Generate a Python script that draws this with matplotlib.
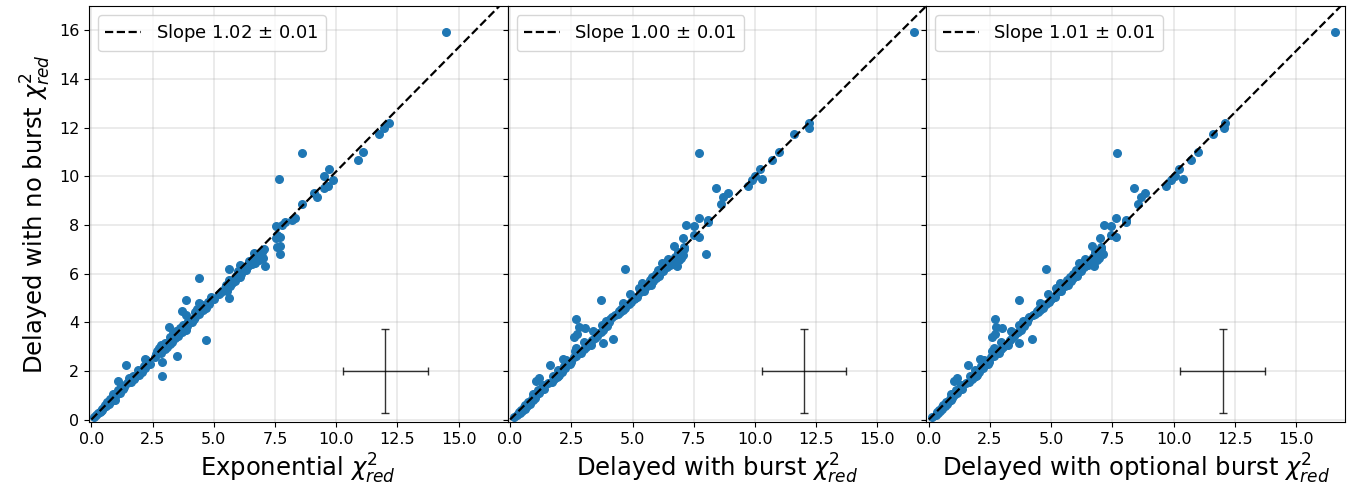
import numpy as np
import matplotlib
matplotlib.use('Agg')
import matplotlib.pyplot as plt

# reduced chi2 of the "delayed with no burst" fits (shared y axis)
chi_noburst = [0.10, 0.18, 0.25, 0.30, 0.35, 0.40, 0.45, 0.50, 0.55, 0.60,
               0.65, 0.70, 0.75, 0.80, 0.85, 0.90, 1.00, 1.05, 1.10, 1.20,
               1.25, 1.35, 1.40, 1.50, 1.55, 1.60, 1.65, 1.70, 1.75, 1.80,
               1.85, 1.80, 1.95, 2.05, 2.10, 2.25, 2.20, 2.30, 2.35, 2.45,
               2.50, 2.55, 2.60, 2.70, 2.75, 2.80, 2.90, 2.95, 3.00, 3.05,
               3.10, 3.15, 3.20, 3.25, 3.30, 3.35, 3.40, 3.45, 3.50, 3.55,
               3.60, 3.65, 3.70, 3.75, 3.80, 3.85, 3.90, 4.00, 4.05, 4.15,
               4.15, 4.20, 4.30, 4.35, 4.40, 4.45, 4.50, 4.55, 4.60, 4.70,
               4.75, 4.80, 4.85, 4.90, 4.95, 5.00, 5.05, 5.15, 5.25, 5.30,
               5.40, 5.50, 5.55, 5.60, 5.70, 5.75, 5.80, 5.85, 5.90, 6.00,
               6.10, 6.15, 6.20, 6.25, 6.30, 6.35, 6.40, 6.30, 6.45, 6.50,
               6.55, 6.60, 6.65, 6.70, 6.75, 6.80, 6.85, 6.90, 7.00, 7.10,
               7.15, 7.50, 7.45, 7.60, 7.95, 8.00, 8.10, 8.20, 8.30, 8.85,
               9.15, 9.30, 9.50, 9.60, 9.85, 9.90, 10.00, 10.30, 10.65, 10.95,
               11.00, 11.75, 12.00, 12.20, 15.95]

chi_exponential = [0.12, 0.20, 0.25, 0.35, 0.38, 0.45, 0.42, 0.52, 0.60, 0.55,
                   0.70, 0.65, 0.80, 0.95, 0.78, 0.85, 1.00, 0.90, 1.15, 1.10,
                   1.30, 1.35, 1.20, 1.45, 1.60, 1.10, 1.75, 1.55, 1.80, 1.70,
                   1.95, 2.90, 2.05, 1.90, 2.20, 1.40, 2.15, 2.40, 2.90, 2.25,
                   2.20, 2.60, 3.50, 2.65, 2.85, 2.70, 3.00, 2.75, 3.10, 2.85,
                   3.20, 3.00, 3.30, 4.70, 3.25, 3.40, 3.20, 3.55, 3.50, 3.35,
                   3.70, 3.45, 3.85, 3.60, 3.15, 3.90, 3.75, 4.10, 3.95, 4.20,
                   4.00, 4.25, 3.85, 4.40, 4.25, 3.70, 4.55, 4.30, 4.70, 4.50,
                   4.80, 4.40, 4.75, 3.85, 5.00, 5.60, 4.90, 5.20, 5.30, 5.55,
                   5.45, 5.65, 5.50, 5.75, 5.85, 5.60, 4.40, 6.05, 5.90, 6.10,
                   6.00, 6.30, 5.60, 6.15, 6.40, 6.05, 6.55, 7.10, 6.70, 6.45,
                   6.85, 6.60, 7.00, 6.75, 6.90, 7.70, 6.65, 6.95, 7.05, 7.60,
                   7.70, 7.70, 7.55, 7.60, 7.55, 7.80, 7.90, 8.20, 8.30, 8.60,
                   9.20, 9.10, 9.50, 9.65, 9.85, 7.65, 9.50, 9.70, 10.90, 8.60,
                   11.10, 11.75, 11.95, 12.15, 14.50]

chi_burst = [0.15, 0.30, 0.40, 0.35, 0.50, 0.45, 0.60, 0.55, 0.70, 0.62,
             0.80, 0.72, 0.85, 0.95, 0.90, 1.00, 1.05, 0.95, 1.20, 1.15,
             1.40, 1.30, 1.35, 1.55, 1.70, 1.05, 1.80, 1.20, 1.90, 1.75,
             2.00, 1.95, 2.10, 1.95, 2.25, 1.64, 2.20, 2.45, 2.50, 2.30,
             2.15, 2.60, 2.70, 2.75, 2.90, 2.65, 3.00, 2.70, 3.10, 3.30,
             3.25, 3.80, 3.00, 3.35, 4.20, 3.45, 2.60, 3.55, 2.75, 3.60,
             3.70, 3.40, 3.80, 3.05, 2.80, 3.95, 3.75, 4.05, 3.90, 2.70,
             4.10, 4.15, 4.30, 4.40, 4.50, 4.45, 4.60, 4.55, 4.70, 4.75,
             4.85, 4.60, 4.95, 3.70, 5.05, 5.10, 5.20, 4.90, 5.30, 5.45,
             5.25, 5.60, 5.75, 5.40, 5.85, 5.70, 5.95, 5.80, 6.10, 5.95,
             6.25, 6.05, 4.70, 6.40, 6.30, 6.55, 6.60, 6.80, 6.20, 6.65,
             6.90, 6.45, 7.00, 6.75, 7.05, 8.00, 6.95, 6.85, 7.10, 7.10,
             6.70, 7.70, 7.05, 7.50, 7.50, 7.20, 8.10, 8.10, 7.70, 8.60,
             8.70, 8.90, 8.40, 9.70, 9.90, 10.30, 10.00, 10.20, 10.70, 7.70,
             11.00, 11.60, 12.20, 12.20, 16.50]

chi_optional = [0.12, 0.28, 0.38, 0.32, 0.45, 0.42, 0.55, 0.52, 0.65, 0.60,
                0.75, 0.70, 0.82, 0.92, 0.88, 0.95, 1.02, 0.92, 1.15, 1.12,
                1.35, 1.28, 1.30, 1.50, 1.65, 1.05, 1.75, 1.15, 1.85, 1.70,
                1.95, 1.92, 2.05, 1.90, 2.20, 1.60, 2.15, 2.40, 2.45, 2.25,
                2.10, 2.55, 2.65, 2.70, 2.85, 2.60, 2.95, 2.65, 3.05, 3.25,
                3.20, 3.70, 2.95, 3.30, 4.20, 3.40, 2.60, 3.50, 2.70, 3.55,
                3.65, 3.35, 3.75, 3.00, 2.75, 3.90, 3.70, 4.00, 3.85, 2.70,
                4.05, 4.10, 4.25, 4.35, 4.45, 4.40, 4.55, 4.50, 4.65, 4.70,
                4.80, 4.55, 4.90, 3.70, 5.00, 5.05, 5.15, 4.85, 5.25, 5.40,
                5.20, 5.55, 5.70, 5.35, 5.80, 5.65, 5.90, 5.75, 6.05, 5.90,
                6.20, 6.00, 4.80, 6.35, 6.25, 6.50, 6.55, 6.75, 6.15, 6.60,
                6.85, 6.40, 6.95, 6.70, 7.00, 7.10, 6.90, 6.80, 7.05, 7.05,
                6.65, 7.65, 7.00, 7.45, 7.45, 7.15, 8.05, 8.05, 7.65, 8.55,
                8.65, 8.85, 8.40, 9.70, 9.90, 10.40, 10.05, 10.20, 10.70, 7.70,
                11.00, 11.60, 12.05, 12.10, 16.60]

xlabels = ['Exponential $\\chi^2_{red}$',
           'Delayed with burst $\\chi^2_{red}$',
           'Delayed with optional burst $\\chi^2_{red}$']
slopes = [1.02, 1.00, 1.01]
slope_errs = [0.01, 0.01, 0.01]

# typical uncertainty shown as a cross
err_x, err_y = 12.0, 2.0
err_dx, err_dy = 1.73, 1.74

fig, axes = plt.subplots(1, 3, figsize=(13.64, 4.97), dpi=100, sharex=True, sharey=True)
fig.subplots_adjust(left=0.0652, right=0.9861, bottom=0.151, top=0.988, wspace=0)

lim = (-0.1, 17.0)
line_x = np.array([0, 20])
for ax, xs, lab, m, dm in zip(axes, [chi_exponential, chi_burst, chi_optional], xlabels, slopes, slope_errs):
    ax.grid(True, alpha=0.3, lw=1.2)
    ax.set_axisbelow(True)
    ax.scatter(xs, chi_noburst, color='C0', s=30, zorder=2)
    ax.plot(line_x, m * line_x, 'k--', lw=1.6, zorder=3,
            label='Slope %.2f $\\pm$ %.2f' % (m, dm))
    ax.errorbar(err_x, err_y, xerr=err_dx, yerr=err_dy, color='k', alpha=0.8,
                lw=1, capsize=3)
    ax.set_xlim(lim)
    ax.set_ylim(lim)
    ax.set_xlabel(lab, fontsize=17.5)
    ax.tick_params(labelsize=11.5)
    ax.legend(loc='upper left', fontsize=13)

axes[0].set_xticks([0, 2.5, 5, 7.5, 10, 12.5, 15])
axes[0].set_yticks([0, 2, 4, 6, 8, 10, 12, 14, 16])
axes[0].set_ylabel('Delayed with no burst $\\chi^2_{red}$', fontsize=17.5)

plt.savefig('out.png', dpi=100)
